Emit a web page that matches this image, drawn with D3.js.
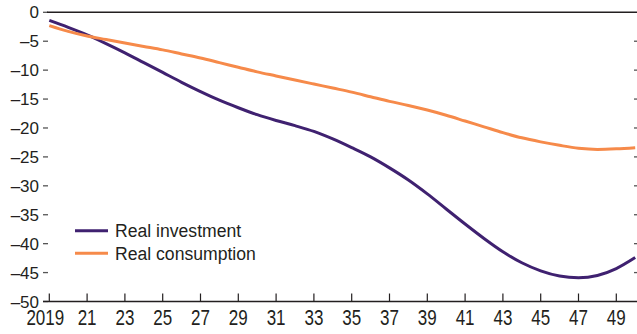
<!DOCTYPE html>
<html>
<head>
<meta charset="utf-8">
<script src="https://d3js.org/d3.v7.min.js"></script>
<style>
  body { margin: 0; background: #fff; }
  text { font-family: "Liberation Sans", Arial, sans-serif; fill: #231f20; }
</style>
</head>
<body>
<svg id="chart" width="637" height="334"></svg>
<script>
  // years 2019..2050, percent deviation
  var years = d3.range(2019, 2051);
  var investment = [-1.4, -2.6, -3.9, -5.4, -7.0, -8.7, -10.4, -12.1, -13.7, -15.2,
    -16.5, -17.7, -18.7, -19.6, -20.6, -21.9, -23.4, -25.0, -26.9, -29.0,
    -31.4, -34.0, -36.6, -39.1, -41.4, -43.3, -44.7, -45.6, -45.9, -45.5,
    -44.3, -42.4];
  var consumption = [-2.3, -3.3, -4.1, -4.7, -5.3, -5.9, -6.5, -7.2, -7.9, -8.7,
    -9.5, -10.3, -11.0, -11.7, -12.4, -13.1, -13.8, -14.6, -15.4, -16.1,
    -16.9, -17.8, -18.8, -19.8, -20.8, -21.7, -22.4, -23.0, -23.5, -23.7,
    -23.6, -23.4];
  var yTicks = [0, -5, -10, -15, -20, -25, -30, -35, -40, -45, -50];
  var xTicks = d3.range(2019, 2050, 2);
  var seriesNames = ['Real investment', 'Real consumption'];
  var colors = ['#3f2170', '#f68a4a'];

  var svg = d3.select('#chart');

  var x = d3.scaleLinear().domain([2019, 2050]).range([49.3, 635.2]);
  var y = d3.scaleLinear().domain([-50, 0]).range([301.5, 12.3]);

  var fmtY = function(d) { return d === 0 ? '0' : '\u2013' + Math.abs(d); };
  var fmtX = function(d) { return d === 2019 ? '2019' : String(d % 100); };

  // left ticks + labels
  var yAxis = svg.append('g').attr('class', 'y-axis');
  yAxis.selectAll('line').data(yTicks).enter().append('line')
    .attr('x1', 43).attr('x2', 48)
    .attr('y1', function(d) { return y(d); })
    .attr('y2', function(d) { return y(d); })
    .attr('stroke', '#555').attr('stroke-width', 1.3);
  yAxis.selectAll('text').data(yTicks).enter().append('text')
    .attr('x', 39)
    .attr('y', function(d) { return y(d) + 6; })
    .attr('text-anchor', 'end')
    .style('font-size', '17px')
    .text(fmtY);

  // right ticks
  svg.append('g').selectAll('line').data(yTicks.slice(1, -1)).enter().append('line')
    .attr('x1', 634).attr('x2', 637)
    .attr('y1', function(d) { return y(d); })
    .attr('y2', function(d) { return y(d); })
    .attr('stroke', '#555').attr('stroke-width', 1.3);

  // zero line
  svg.append('line')
    .attr('x1', 47).attr('x2', 637)
    .attr('y1', y(0)).attr('y2', y(0))
    .attr('stroke', '#231f20').attr('stroke-width', 1.4);

  // bottom axis
  var xAxis = svg.append('g').attr('class', 'x-axis');
  xAxis.append('line')
    .attr('x1', 43).attr('x2', 637)
    .attr('y1', y(-50)).attr('y2', y(-50))
    .attr('stroke', '#231f20').attr('stroke-width', 1.4);
  xAxis.selectAll('line.tick').data(xTicks).enter().append('line')
    .attr('class', 'tick')
    .attr('x1', function(d) { return x(d); })
    .attr('x2', function(d) { return x(d); })
    .attr('y1', y(-50)).attr('y2', y(-50) - 8)
    .attr('stroke', '#231f20').attr('stroke-width', 1.2);
  xAxis.selectAll('text').data(xTicks).enter().append('text')
    .attr('transform', function(d) {
      var dx = d === 2019 ? -4 : 0;
      return 'translate(' + (x(d) + dx) + ',325) scale(1,1.28)';
    })
    .attr('text-anchor', 'middle')
    .style('font-size', '17px')
    .text(fmtX);

  // lines
  var line = d3.line()
    .x(function(d, i) { return x(years[i]); })
    .y(function(d) { return y(d); })
    .curve(d3.curveMonotoneX);

  [investment, consumption].forEach(function(vals, i) {
    svg.append('path')
      .datum(vals)
      .attr('fill', 'none')
      .attr('stroke', colors[i])
      .attr('stroke-width', 3)
      .attr('d', line);
  });

  // legend
  var legend = svg.append('g').attr('class', 'legend');
  var legendY = [230.7, 253.3];
  seriesNames.forEach(function(name, i) {
    legend.append('line')
      .attr('x1', 75).attr('x2', 108)
      .attr('y1', legendY[i]).attr('y2', legendY[i])
      .attr('stroke', colors[i]).attr('stroke-width', 3);
    legend.append('text')
      .attr('x', 115)
      .attr('y', legendY[i] + 6.3)
      .style('font-size', '17.6px')
      .text(name);
  });
</script>
</body>
</html>
